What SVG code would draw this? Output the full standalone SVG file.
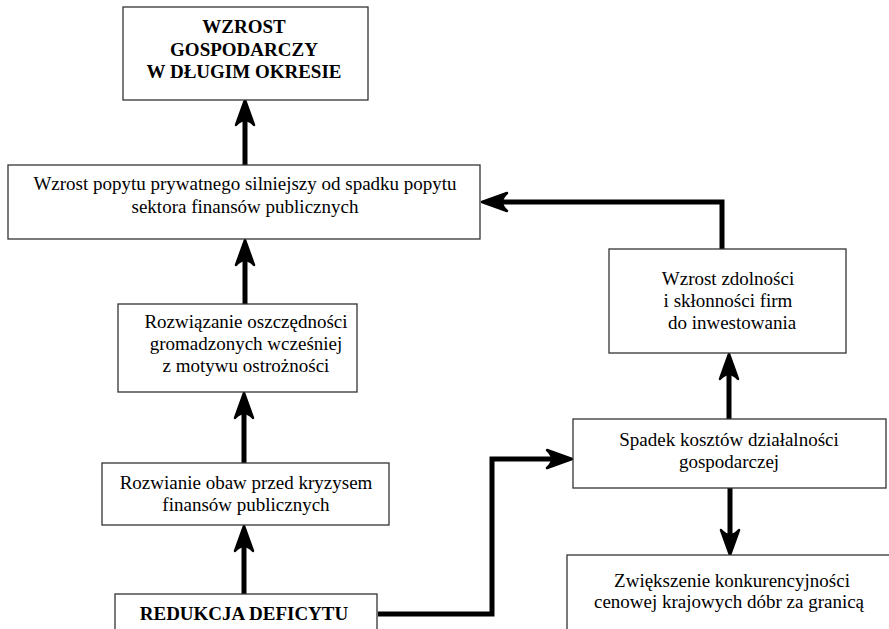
<svg xmlns="http://www.w3.org/2000/svg" xmlns:xlink="http://www.w3.org/1999/xlink" width="889" height="629" viewBox="0 0 889 629">
<style>
.box{fill:#fff;stroke:#333;stroke-width:1.3}
text{font-family:'Liberation Serif','Times New Roman','DejaVu Serif',serif;font-size:19px;fill:#000;text-anchor:middle}
.b{font-weight:bold}
.ln{fill:none;stroke:#000;stroke-width:5;stroke-linejoin:miter;stroke-linecap:butt}
.ah{fill:#000;stroke:#000;stroke-width:2.5;stroke-linejoin:round}
</style>
<defs>
<path id="ah" d="M0,0 L9,25 Q0,15 -9,25 Z"/>
</defs>
<rect width="889" height="629" fill="#fff"/>
<g id="connectors">
<path class="ln" d="M245,165 V112"/>
<use href="#ah" class="ah" transform="translate(245,100)"/>
<path class="ln" d="M245,304 V252"/>
<use href="#ah" class="ah" transform="translate(245,240)"/>
<path class="ln" d="M244,463 V405"/>
<use href="#ah" class="ah" transform="translate(244,393)"/>
<path class="ln" d="M244,594 V538"/>
<use href="#ah" class="ah" transform="translate(244,526)"/>
<path class="ln" d="M378,614 H492 V459 H560"/>
<use href="#ah" class="ah" transform="translate(572,459) rotate(90)"/>
<path class="ln" d="M729,419 V366"/>
<use href="#ah" class="ah" transform="translate(729,354)"/>
<path class="ln" d="M722,249 V202 H494"/>
<use href="#ah" class="ah" transform="translate(482,202) rotate(-90)"/>
<path class="ln" d="M730,488 V543"/>
<use href="#ah" class="ah" transform="translate(730,555) rotate(180)"/>
</g>
<g id="n1">
<rect class="box" x="123" y="7" width="245" height="93"/>
<text class="b" x="244" y="33">WZROST</text>
<text class="b" x="244" y="56">GOSPODARCZY</text>
<text class="b" x="244" y="78">W DŁUGIM OKRESIE</text>
</g>
<g id="n2">
<rect class="box" x="8" y="165" width="472" height="74"/>
<text x="245" y="190">Wzrost popytu prywatnego silniejszy od spadku popytu</text>
<text x="245" y="213">sektora finansów publicznych</text>
</g>
<g id="n3">
<rect class="box" x="118" y="304" width="239" height="88"/>
<text x="246" y="328">Rozwiązanie oszczędności</text>
<text x="246" y="350">gromadzonych wcześniej</text>
<text x="246" y="372">z motywu ostrożności</text>
</g>
<g id="n4">
<rect class="box" x="102" y="463" width="287" height="62"/>
<text x="246" y="489">Rozwianie obaw przed kryzysem</text>
<text x="246" y="511">finansów publicznych</text>
</g>
<g id="n5">
<rect class="box" x="115" y="594" width="262" height="45"/>
<text class="b" x="244" y="620">REDUKCJA DEFICYTU</text>
</g>
<g id="n6">
<rect class="box" x="573" y="419" width="313" height="69"/>
<text x="729" y="446">Spadek kosztów działalności</text>
<text x="729" y="468">gospodarczej</text>
</g>
<g id="n7">
<rect class="box" x="567" y="555" width="330" height="80"/>
<text x="732" y="587">Zwiększenie konkurencyjności</text>
<text x="729" y="608">cenowej krajowych dóbr za granicą</text>
</g>
<g id="n8">
<rect class="box" x="609" y="249" width="237" height="104"/>
<text x="728" y="285">Wzrost zdolności</text>
<text x="728" y="307">i skłonności firm</text>
<text x="732" y="329">do inwestowania</text>
</g>
</svg>
